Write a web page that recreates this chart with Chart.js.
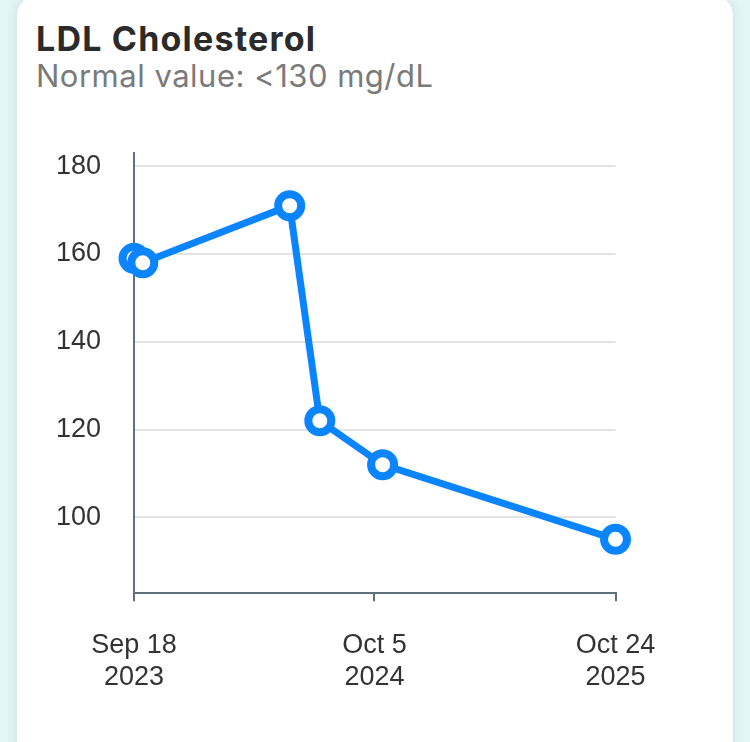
<!DOCTYPE html>
<html>
<head>
<meta charset="utf-8">
<script src="https://cdn.jsdelivr.net/npm/chart.js@4.4.1/dist/chart.umd.min.js"></script>
<style>
  html, body { margin: 0; padding: 0; width: 750px; height: 742px; overflow: hidden; background: #e3f5f6; }
  #card { position: absolute; left: 17px; top: -6px; width: 716px; height: 800px; background: #fff; border-radius: 22px; box-shadow: 0 0 10px rgba(120,160,170,0.25); }
  #title { position: absolute; left: 36px; top: 22px; font-family: Inter, "Liberation Sans", sans-serif; font-weight: 700; font-size: 34px; letter-spacing: 1.2px; line-height: 1; color: #2b2b2b; white-space: nowrap; }
  #subtitle { position: absolute; left: 36px; top: 60px; font-family: Inter, "Liberation Sans", sans-serif; font-weight: 400; font-size: 31px; letter-spacing: 0.5px; line-height: 1; color: #7a7a7a; white-space: nowrap; }
  #chart { position: absolute; left: 0; top: 0; }
</style>
</head>
<body>
<div id="card"></div>
<div id="title">LDL Cholesterol</div>
<div id="subtitle">Normal value: &lt;130 mg/dL</div>
<canvas id="chart" width="750" height="742"></canvas>
<script>
// ---- data ----
const dates = ["2023-09-18", "2023-10-02", "2024-05-23", "2024-07-10", "2024-10-18", "2025-10-24"];
const values = [159, 158, 171, 122, 112, 95];
const tickDates = ["2023-09-18", "2024-10-05", "2025-10-24"];
const tickLabels = [["Sep 18", "2023"], ["Oct 5", "2024"], ["Oct 24", "2025"]];
const yTicks = [100, 120, 140, 160, 180];
const yMin = 82.7;
const yMax = 183;

const DAY = 86400000;
const t0 = Date.parse(dates[0] + "T00:00:00Z");
const dayOf = d => Math.round((Date.parse(d + "T00:00:00Z") - t0) / DAY);

const points = dates.map((d, i) => ({ x: dayOf(d), y: values[i] }));
const blue = "#0a84ff";
const axisColor = "#5f727c";
const labelFont = { family: "'Liberation Sans', Arial, sans-serif", size: 27, lineHeight: 1.16 };

new Chart(document.getElementById("chart"), {
  type: "line",
  data: {
    datasets: [{
      data: points,
      borderColor: blue,
      borderWidth: 7,
      pointRadius: 11.5,
      pointHoverRadius: 11.5,
      pointBorderWidth: 8,
      pointBackgroundColor: "#ffffff",
      pointBorderColor: blue,
      tension: 0,
      clip: false
    }]
  },
  options: {
    responsive: false,
    animation: false,
    devicePixelRatio: 1,
    layout: { padding: { top: 153, right: 134.5, bottom: 48.7, left: 0 } },
    plugins: { legend: { display: false }, tooltip: { enabled: false } },
    scales: {
      x: {
        type: "linear",
        min: dayOf(dates[0]),
        max: dayOf(dates[dates.length - 1]),
        afterBuildTicks: s => { s.ticks = tickDates.map(d => ({ value: dayOf(d) })); },
        afterFit: s => { s.height = 100; },
        ticks: {
          autoSkip: false,
          maxRotation: 0,
          padding: 29,
          color: "#333333",
          font: labelFont,
          callback: (v, i) => tickLabels[i]
        },
        grid: { drawOnChartArea: false, drawTicks: true, tickLength: 8, color: axisColor, lineWidth: 2 },
        border: { display: true, color: axisColor, width: 2 }
      },
      y: {
        min: yMin,
        max: yMax,
        afterBuildTicks: s => { s.ticks = yTicks.map(v => ({ value: v })); },
        afterFit: s => { s.width = 134; },
        ticks: { padding: 33, color: "#333333", font: labelFont },
        grid: { drawTicks: false, color: "#e3e3e3", lineWidth: 2 },
        border: { display: true, color: axisColor, width: 2 }
      }
    }
  }
});
</script>
</body>
</html>
